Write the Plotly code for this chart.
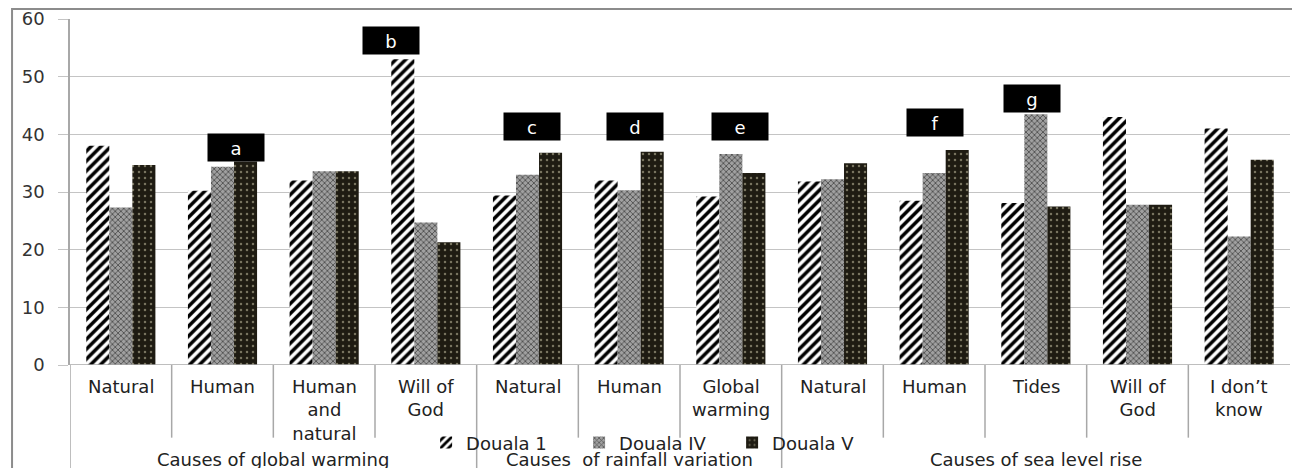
import plotly.graph_objects as go

categories = ["Natural", "Human", "Human<br>and<br>natural", "Will of<br>God",
              "Natural", "Human", "Global<br>warming",
              "Natural", "Human", "Tides", "Will of<br>God", "I don’t<br>know"]
groups = ["Causes of global warming", "Causes  of rainfall variation", "Causes of sea level rise"]
group_sizes = [4, 3, 5]

douala_1 = [38.0, 30.2, 32.0, 53.0, 29.4, 32.0, 29.2, 31.8, 28.5, 28.1, 43.0, 41.0]
douala_iv = [27.3, 34.4, 33.6, 24.7, 33.0, 30.3, 36.6, 32.2, 33.3, 43.5, 27.8, 22.3]
douala_v = [34.7, 35.3, 33.6, 21.3, 36.8, 37.0, 33.3, 35.0, 37.3, 27.5, 27.8, 35.6]

letters = ["a", "b", "c", "d", "e", "f", "g"]
letter_x = [1.13, 2.66, 4.04, 5.06, 6.09, 8.01, 8.96]
letter_y = [37.7, 56.2, 41.3, 41.3, 41.3, 42.1, 46.3]

FONT = "DejaVu Sans"
FS = 18
xs = list(range(len(categories)))

fig = go.Figure()
fig.add_trace(go.Bar(
    x=xs, y=douala_1, name="Douala 1",
    marker=dict(color="white", line=dict(width=0),
                pattern=dict(shape="/", fgcolor="#000000", bgcolor="white", fgopacity=1,
                             size=7, solidity=0.5)),
))
fig.add_trace(go.Bar(
    x=xs, y=douala_iv, name="Douala IV",
    marker=dict(color="#8a8a8a", line=dict(width=0),
                pattern=dict(shape="x", fgcolor="#505050", bgcolor="#a0a0a0", fgopacity=1,
                             size=4, solidity=0.4)),
))
fig.add_trace(go.Bar(
    x=xs, y=douala_v, name="Douala V",
    marker=dict(color="#1e1b12", line=dict(width=0),
                pattern=dict(shape=".", fgcolor="#77735f", bgcolor="#1e1b12", fgopacity=1,
                             size=6, solidity=0.14)),
))

annotations = []
# category labels
for i, c in enumerate(categories):
    annotations.append(dict(x=i, xref="x", y=-0.025, yref="paper", text=c, showarrow=False,
                            yanchor="top", xanchor="center", align="center",
                            font=dict(family=FONT, size=FS, color="#222")))
# group labels
start = 0
for g, n in zip(groups, group_sizes):
    center = start + (n - 1) / 2
    annotations.append(dict(x=center, xref="x", y=-0.272, yref="paper", text=g, showarrow=False,
                            yanchor="middle", xanchor="center",
                            font=dict(family=FONT, size=FS, color="#222")))
    start += n
# letter boxes
for t, lx, ly in zip(letters, letter_x, letter_y):
    annotations.append(dict(x=lx, y=ly, xref="x", yref="y", text=t, showarrow=False,
                            bgcolor="black", width=52, height=23, valign="bottom",
                            borderpad=2, font=dict(family=FONT, size=FS, color="white")))

shapes = []
bounds = [-0.5]
acc = -0.5
for n in group_sizes:
    acc += n
    bounds.append(acc)
for k in range(len(categories)):
    xv = k - 0.5
    major = any(abs(xv - b) < 1e-9 for b in bounds[:-1])
    shapes.append(dict(type="line", xref="x", yref="paper", x0=xv, x1=xv,
                       y0=0, y1=-0.34 if major else -0.21,
                       line=dict(color="#a8a8a8", width=1.5)))
# outer frame
shapes.append(dict(type="rect", xref="paper", yref="paper",
                   x0=-0.0475, x1=1.0033, y0=-0.32, y1=1.029,
                   line=dict(color="#8c8c8c", width=2)))

# page body has an 8px margin: shift margins so plot area lands at x 70-1290, y 19-365
fig.update_layout(
    width=1300, height=468,
    margin=dict(l=62, r=18, t=11, b=111),
    paper_bgcolor="white", plot_bgcolor="white",
    barmode="group", bargap=0.32, bargroupgap=0,
    font=dict(family=FONT, size=FS, color="#222"),
    legend=dict(orientation="h", x=0.48, xanchor="center", y=-0.225, yanchor="middle",
                font=dict(family=FONT, size=FS, color="#222"), entrywidth=108,
                bgcolor="rgba(0,0,0,0)"),
    annotations=annotations, shapes=shapes,
    xaxis=dict(range=[-0.5, len(categories) - 0.5], showticklabels=False, showgrid=False,
               zeroline=False, showline=False, ticks="", automargin=False),
    yaxis=dict(range=[0, 60], dtick=10, showgrid=True, gridcolor="#c4c4c4", gridwidth=1,
               zeroline=False, showline=True, linecolor="#a8a8a8", linewidth=1.5,
               ticks="outside", ticklen=10, tickcolor="#c4c4c4", automargin=False,
               ticklabelstandoff=10,
               tickfont=dict(family=FONT, size=FS, color="#333")),
)
fig.add_hline(y=0, line=dict(color="#a8a8a8", width=1.5))

fig.write_html("out.html")
